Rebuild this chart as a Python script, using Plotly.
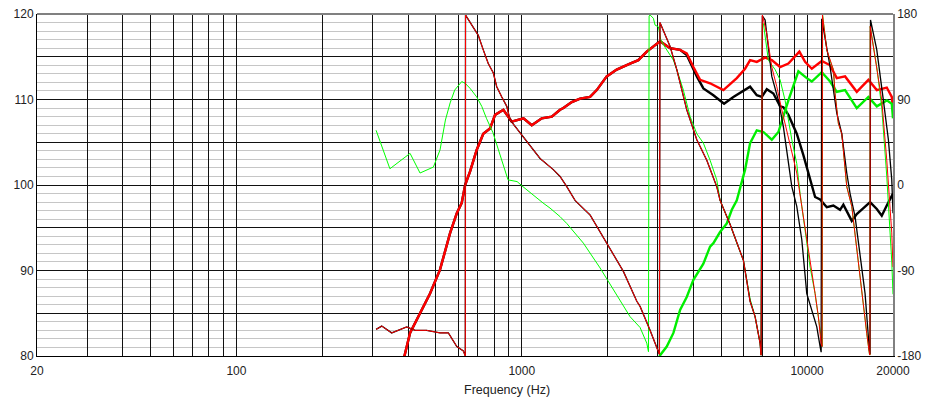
import math
import plotly.graph_objects as go

# ---------------- SPL curves (dB, left axis) ----------------
red_spl_f = [380, 388, 406, 440, 477, 517, 561, 592, 616, 633, 659, 695, 733, 774, 806, 862, 922,
             1014, 1084, 1175, 1274, 1362, 1399, 1497, 1601, 1735, 1831, 1985, 2152, 2396, 2562,
             2742, 2932, 3054, 3178, 3310, 3588, 3786, 3995, 4217, 4570, 5088, 5670, 6062, 6312,
             6662, 7126, 7520, 8042, 8598, 9396, 9838, 10386, 11258, 12038, 12706, 13586, 14930,
             16398, 17548, 19020, 19804, 20000]
red_spl_db = [79.2, 80.0, 82.7, 85.0, 87.3, 90.1, 94.4, 96.7, 97.9, 100.0, 101.6, 104.1, 106.0, 106.6,
              108.2, 108.8, 107.4, 107.8, 107.0, 107.8, 108.0, 108.8, 109.0, 109.7, 110.1, 110.3,
              111.1, 112.7, 113.5, 114.2, 114.6, 115.6, 116.4, 116.8, 116.4, 116.0, 115.8, 115.4,
              113.8, 112.3, 111.9, 111.1, 112.5, 113.6, 114.6, 114.4, 114.9, 114.6, 113.8, 114.2,
              115.6, 114.4, 113.6, 114.5, 114.0, 112.5, 112.7, 110.9, 112.3, 111.1, 111.4, 110.3,
              108.8]

black_spl_f = [380, 388, 406, 440, 477, 517, 561, 592, 616, 633, 659, 695, 733, 774, 806, 862, 922,
               1014, 1084, 1175, 1274, 1362, 1399, 1497, 1601, 1735, 1831, 1985, 2152, 2396, 2562,
               2742, 2932, 3054, 3178, 3310, 3588, 3786, 4106, 4330, 4694, 5116, 5516, 5980, 6312,
               6662, 6938, 7222, 7618, 8042, 8258, 8598, 9200, 9704, 10244, 10666, 11106, 11722,
               12362, 13048, 13400, 13774, 14340, 14930, 15748, 16624, 17548, 18268, 19020, 19534,
               20000]
black_spl_db = [79.2, 80.0, 82.7, 85.0, 87.3, 90.1, 94.4, 96.7, 97.9, 100.0, 101.6, 104.1, 106.0,
                106.6, 108.2, 108.8, 107.4, 107.8, 107.0, 107.8, 108.0, 108.8, 109.0, 109.7, 110.1,
                110.3, 111.1, 112.7, 113.5, 114.2, 114.6, 115.6, 116.4, 116.8, 116.4, 116.0, 115.8,
                115.2, 112.7, 111.3, 110.5, 109.5, 110.3, 111.0, 111.5, 110.5, 110.3, 111.2, 110.7,
                109.2, 109.1, 108.2, 106.0, 103.5, 100.8, 98.6, 98.3, 97.4, 97.6, 97.1, 97.7, 96.9,
                95.8, 96.6, 97.3, 98.0, 97.2, 96.4, 97.6, 98.4, 99.0]

green_spl_f = [3000, 3054, 3222, 3400, 3588, 3786, 3995, 4217, 4330, 4570, 4694, 4954, 5230, 5446,
               5670, 6062, 6312, 6662, 7028, 7520, 7932, 8598, 9320, 9974, 10386, 11258, 12038,
               12706, 13586, 14930, 16398, 17548, 19020, 19804, 20000]
green_spl_db = [79.5, 80.1, 81.1, 82.7, 85.4, 86.9, 88.9, 90.1, 90.8, 92.8, 93.2, 94.5, 95.5, 97.1,
                98.2, 101.8, 104.9, 106.4, 106.2, 105.3, 106.2, 109.9, 113.3, 112.5, 112.1, 113.2,
                112.1, 110.9, 111.1, 109.0, 110.3, 109.2, 109.9, 109.5, 107.8]

# ---------------- Phase curves (degrees, right axis) ----------------
red_ph_f = [308.6, 323, 350, 395, 423, 464, 517, 553, 592, 624, 634, 635, 641, 668, 704, 733, 763,
            795, 817, 851, 886, 910, 1014, 1159, 1290, 1362, 1438, 1537, 1735, 2012, 2270, 2530,
            2598, 2816, 2972, 3036, 3050, 3135, 3310, 3494, 3786, 4106, 4450, 4824, 4954, 5370,
            5670, 5980, 6312, 6572, 6842, 6898, 6968, 7222, 7520, 7830, 8152, 8488, 8838, 9200,
            9580, 9838, 10244, 10666, 10954, 11190, 11290, 11320, 11722, 12130, 12362, 12532,
            12870, 13228, 13774, 14340, 14930, 15546, 16188, 16530, 16600, 16640, 17548, 18268,
            19020, 19804, 20000]
red_ph_deg = [-152, -148.5, -155.7, -149.4, -153, -153, -155.7, -155.7, -170, -174.6, -180, 179,
              177, 168.3, 157.5, 142.2, 127.8, 117.9, 103.5, 92.7, 82.8, 68.4, 50.4, 27.9, 16.2, 9,
              -1.8, -16.2, -31.5, -64.8, -90.9, -122.4, -127.8, -153, -170.1, -178.2, 171, 162.9,
              145.8, 121.5, 79.2, 47.7, 26.1, -1.8, -16.2, -41.4, -61.2, -79.2, -122.4, -138.6,
              -166.5, -179.1, 179, 159.3, 124.2, 103.5, 79.2, 57.6, 36.9, 12.6, -22.5, -44.1, -79.2,
              -114.3, -138.6, -166.5, -170, 179, 142.2, 127.8, 121.5, 96.3, 64.8, 54, -1.8, -22.5,
              -68.4, -114.3, -156.6, -177.3, -179, 167, 124.2, 89.1, 26.1, -50.4, -86.4]

black_ph_f = [308.6, 323, 350, 395, 423, 464, 517, 553, 592, 624, 634, 635, 641, 668, 704, 733, 763,
              795, 817, 851, 886, 910, 1014, 1159, 1290, 1362, 1438, 1537, 1735, 2012, 2270, 2530,
              2598, 2816, 2972, 3036, 3050, 3135, 3310, 3494, 3786, 4106, 4450, 4824, 4954, 5370,
              5670, 5980, 6312, 6572, 6842, 6898, 6968, 7126, 7520, 7932, 8258, 8488, 8838, 9200,
              9580, 9974, 10386, 10814, 11106, 11200, 11250, 11722, 12038, 12706, 13228, 13774,
              14144, 14728, 15334, 15966, 16530, 16620, 16680, 17548, 18506, 19268, 19804, 20000]
black_ph_deg = [-152, -148.5, -155.7, -149.4, -153, -153, -155.7, -155.7, -170, -174.6, -180, 179,
                177, 168.3, 157.5, 142.2, 127.8, 117.9, 103.5, 92.7, 82.8, 68.4, 50.4, 27.9, 16.2, 9,
                -1.8, -16.2, -31.5, -64.8, -90.9, -122.4, -127.8, -153, -170.1, -178.2, 171, 162.9,
                145.8, 121.5, 79.2, 47.7, 26.1, -1.8, -16.2, -41.4, -61.2, -79.2, -122.4, -138.6,
                -166.5, -179.1, 178, 173.7, 114.3, 89.1, 61.2, 36.9, -1.8, -22.5, -57.6, -114.3,
                -131.4, -149.4, -170.1, -176, 175, 144, 124.2, 75.6, 54, 12.6, -9, -33.3, -72,
                -114.3, -173.7, -178, 173.7, 142.2, 89.1, 47.7, 5.4, -29.7]

green_ph_f = [308.6, 345, 406, 440, 490, 517, 540, 561, 582, 616, 633, 659, 695, 724, 752, 793, 895,
              963, 1010, 1096, 1187, 1256, 1362, 1438, 1644, 1881, 2152, 2396, 2598, 2742, 2780,
              2794, 2816, 2892, 2932, 3012, 3070, 3178, 3400, 3494, 3684, 3890, 4106, 4330, 4570,
              4824, 4954, 5370, 5670, 5980, 6312, 6572, 6842, 6898, 6968, 7028, 7316, 7724, 8042,
              8372, 8838, 9200, 9450, 9838, 10244, 10666, 11106, 11312, 11330, 11722, 12130, 12362,
              12532, 12870, 13228, 13774, 14340, 14930, 15546, 16188, 16530, 16600, 16640, 17548,
              18268, 19020, 19804, 20000]
green_ph_deg = [57.6, 17.1, 33.3, 12.6, 18.9, 36.9, 68.4, 86.4, 99.9, 108.9, 107.1, 101.7, 92.7,
                82.8, 70.2, 54.9, 5.4, 3.6, -1.8, -10.8, -18.9, -24.3, -33.3, -40.5, -61.2, -87.3,
                -116.1, -138.6, -150, -166.5, -175.5, 178, 179, 175.5, 168.3, 166.5, 153, 145, 131.4,
                121.5, 99.9, 72, 54, 44.1, 26.1, 5.4, -16.2, -41.4, -61.2, -79.2, -120, -138.6,
                -166.5, -179.1, 170, 170, 131.4, 121.5, 110.7, 89.1, 47.7, 22.5, -9, -50.4, -86.4,
                -114.3, -149.4, -170, 179, 142.2, 127.8, 121.5, 96.3, 64.8, 54, -1.8, -22.5, -68.4,
                -114.3, -156.6, -177.3, -179, 167, 124, 81, 9, -81, -115]

# ---------------- Axis grid / labels ----------------
grid_freqs = [20, 30, 40, 50, 60, 70, 80, 90,
              100, 200, 300, 400, 500, 600, 700, 800, 900,
              1000, 2000, 3000, 4000, 5000, 6000, 7000, 8000, 9000,
              10000, 20000]
labelled_freqs = {20: "20", 100: "100", 1000: "1000", 10000: "10000", 20000: "20000"}
spl_ticks = [80, 85, 90, 95, 100, 105, 110, 115, 120]
phase_ticks = [-180, -90, 0, 90, 180]

FONT = "Liberation Sans, Arial, sans-serif"

fig = go.Figure()

# thin phase traces underneath the SPL traces (red drawn last so it sits on top)
fig.add_trace(go.Scatter(x=green_ph_f, y=green_ph_deg, yaxis="y2", mode="lines",
                         line=dict(color="#00ff00", width=1), hoverinfo="skip"))
fig.add_trace(go.Scatter(x=black_ph_f, y=black_ph_deg, yaxis="y2", mode="lines",
                         line=dict(color="#000000", width=1.3), hoverinfo="skip"))
fig.add_trace(go.Scatter(x=red_ph_f, y=red_ph_deg, yaxis="y2", mode="lines",
                         line=dict(color="#ff0000", width=1), hoverinfo="skip"))

# thick SPL traces
fig.add_trace(go.Scatter(x=black_spl_f, y=black_spl_db, mode="lines",
                         line=dict(color="#000000", width=2.4), hoverinfo="skip"))
fig.add_trace(go.Scatter(x=red_spl_f, y=red_spl_db, mode="lines",
                         line=dict(color="#ff0000", width=2.4), hoverinfo="skip"))
fig.add_trace(go.Scatter(x=green_spl_f, y=green_spl_db, mode="lines",
                         line=dict(color="#00ee00", width=2.4), hoverinfo="skip"))

fig.update_layout(
    width=930, height=401,
    margin=dict(l=37, r=37, t=14, b=45, autoexpand=False),
    paper_bgcolor="white", plot_bgcolor="white",
    showlegend=False,
    font=dict(family=FONT, size=12, color="#222222"),
    xaxis=dict(
        type="log",
        range=[math.log10(20), math.log10(20000)],
        tickvals=grid_freqs,
        ticktext=[labelled_freqs.get(f, "") for f in grid_freqs],
        showgrid=True, gridcolor="#111111", gridwidth=1,
        ticks="", ticklabelstandoff=4, showline=True, linecolor="#000000", linewidth=1,
        zeroline=False, tickfont=dict(size=12), automargin=False,
    ),
    yaxis=dict(
        range=[80, 120],
        tickvals=spl_ticks,
        ticktext=[str(v) if v % 10 == 0 else "" for v in spl_ticks],
        showgrid=True, gridcolor="#111111", gridwidth=1,
        minor=dict(dtick=1, showgrid=True, gridcolor="#c6c6c6", gridwidth=1),
        ticks="", showline=True, linecolor="#000000", linewidth=1,
        zeroline=False, tickfont=dict(size=12), automargin=False,
    ),
    yaxis2=dict(
        range=[-180, 180],
        overlaying="y", side="right",
        tickvals=phase_ticks,
        ticktext=[str(v) for v in phase_ticks],
        showgrid=False, zeroline=False,
        ticks="", showline=True, linecolor="#808080", linewidth=1.5,
        tickfont=dict(size=12), automargin=False,
    ),
    shapes=[dict(type="line", xref="paper", yref="paper", x0=0, x1=1, y0=1, y1=1,
                 line=dict(color="#808080", width=2))],
    annotations=[dict(text="Frequency (Hz)", xref="paper", yref="paper",
                      x=0.549, y=-0.0994, xanchor="center", yanchor="middle",
                      showarrow=False, font=dict(size=12.5, color="#222222"))],
)

fig.write_html("out.html")
